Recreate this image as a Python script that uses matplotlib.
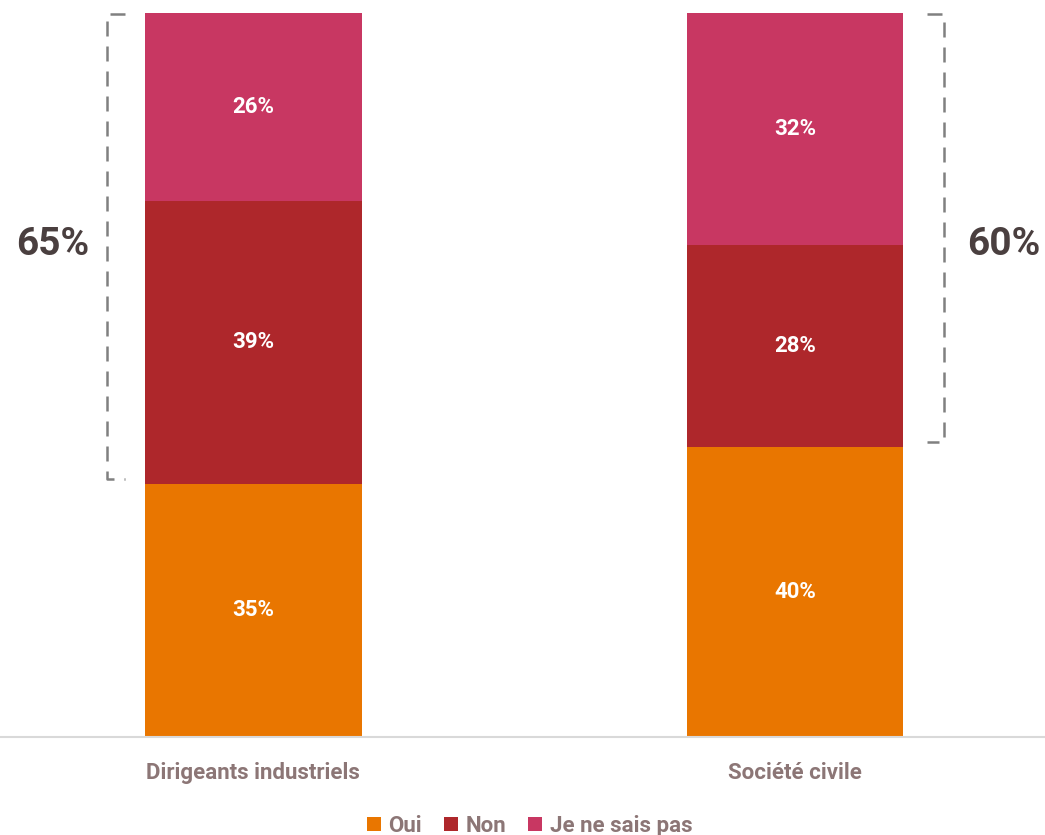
import matplotlib.pyplot as plt
import numpy as np
from matplotlib.patches import Patch

# data
categories = ['Dirigeants industriels', 'Société civile']
oui = [35, 40]
non = [39, 28]
nsp = [26, 32]
series_names = ['Oui', 'Non', 'Je ne sais pas']

colors = ['#E97600', '#AE272B', '#C83762']
txt_col = '#8C7676'
dark = '#4A3F3F'

plt.rcParams['font.family'] = ['Roboto', 'DejaVu Sans']

fig = plt.figure(figsize=(10.45, 8.35), dpi=100)
ax = fig.add_axes([0, 0.1174, 1, 0.867])

x = np.arange(len(categories))
w = 0.4
bottom = np.zeros(len(categories))
for vals, c in zip([oui, non, nsp], colors):
    ax.bar(x, vals, w, bottom=bottom, color=c, zorder=2)
    for xi, b, v in zip(x, bottom, vals):
        ax.text(xi, b + v / 2, f'{v}%', ha='center', va='center',
                color='white', fontsize=16, fontweight='bold')
    bottom += np.array(vals)

ax.set_xlim(-0.468, 1.462)
ax.set_ylim(0, 100)

for s in ['top', 'right', 'left']:
    ax.spines[s].set_visible(False)
ax.spines['bottom'].set_color('#D9D9D9')
ax.spines['bottom'].set_linewidth(1.5)
ax.set_yticks([])
ax.set_xticks(x)
ax.set_xticklabels(categories, fontsize=16, fontweight='bold', color=txt_col)
ax.tick_params(axis='x', length=0, pad=18)

# brackets for Non + Je ne sais pas
bk = dict(color='#808080', lw=1.8, ls=(0, (6, 4)), clip_on=False)
for i, (xv, xt, side) in enumerate([(-0.2705, -0.2373, 'left'), (1.2752, 1.2438, 'right')]):
    lo = oui[i] + 0.7
    hi = oui[i] + non[i] + nsp[i] - 0.2
    ax.plot([xt, xv, xv, xt], [hi, hi, lo, lo], **bk)
    tot = non[i] + nsp[i]
    tx = -0.37 if side == 'left' else 1.386
    ax.text(tx, 68, f'{tot}%', ha='center', va='center', fontsize=28,
            fontweight='bold', color=dark)

handles = [Patch(facecolor=c, edgecolor='none') for c in colors]
leg = fig.legend(handles, series_names, loc='lower center', ncol=3,
                 bbox_to_anchor=(0.507, -0.026), frameon=False,
                 handlelength=0.6, handleheight=0.6, handletextpad=0.35,
                 columnspacing=1.0, prop={'size': 16, 'weight': 'bold'})
for t in leg.get_texts():
    t.set_color(txt_col)

fig.savefig('out.png', dpi=100)
